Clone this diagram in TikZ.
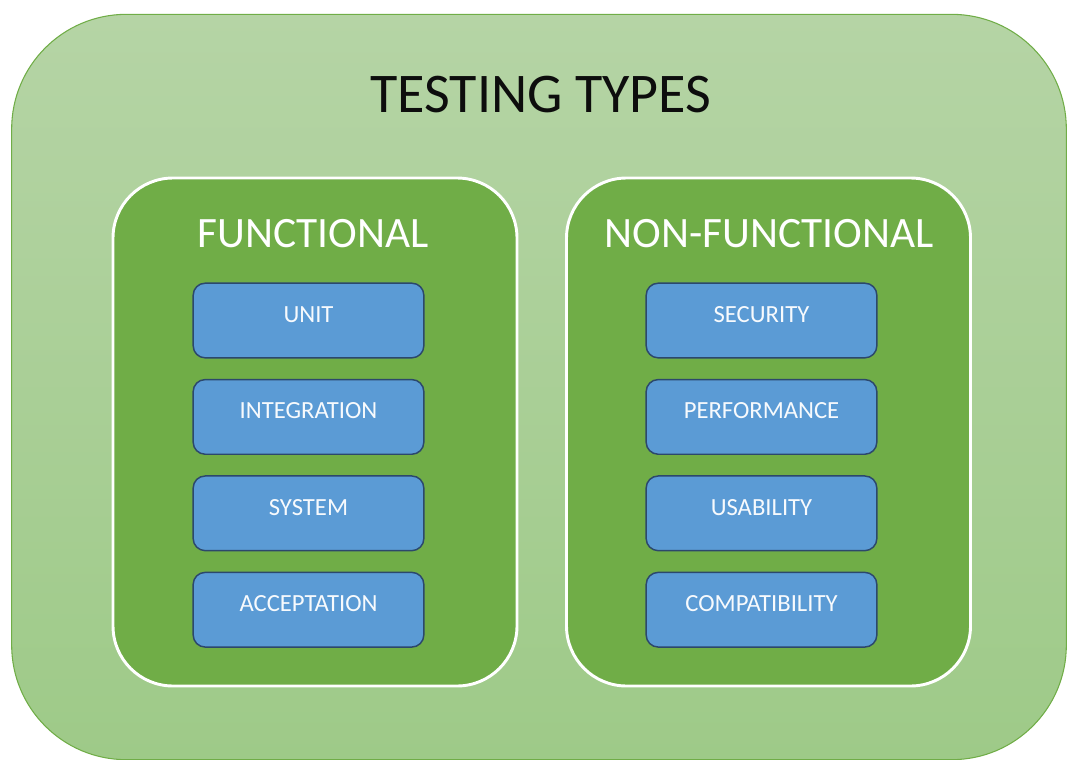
\documentclass[tikz,border=0pt]{standalone}
\usepackage{fontspec}
\setmainfont{Carlito}
\usepackage{tikz}
\usetikzlibrary{positioning, shapes}
\definecolor{outertop}{RGB}{181,212,165}
\definecolor{outerbot}{RGB}{158,202,136}
\definecolor{officegreen}{RGB}{112,173,71}
\definecolor{officeblue}{RGB}{91,155,213}
\definecolor{bluerim}{RGB}{44,72,108}

\begin{document}
\begin{tikzpicture}[x=0.75pt, y=-0.75pt,
        panel/.style={draw=white, line width=2.2pt, fill=officegreen, rounded corners=45pt,
                minimum width=303pt, minimum height=381pt},
        head/.style={text=white, font=\fontsize{32.5}{36}\selectfont, inner sep=0pt},
        kind/.style={draw=bluerim, line width=1.1pt, fill=officeblue, rounded corners=9pt,
                minimum width=173pt, minimum height=56pt, text=white!95!officeblue,
                font=\fontsize{18.5}{20}\selectfont, text depth=9pt, inner sep=0pt},
        node distance=15.2pt]
        \useasboundingbox (0,0) rectangle (1067,760);
        % big background box
        \node (types) [draw=officegreen, line width=0.8pt, top color=outertop, bottom color=outerbot,
                rounded corners=86pt, minimum width=791pt, minimum height=559pt] at (539,387) {};
        \node (title) [font=\fontsize{42}{46}\selectfont, text=black!95, inner sep=0pt] at (541,95) {TESTING TYPES};

        % functional column
        \node (func) [panel] at (315,432) {};
        \node (funchead) [head] at (313,234) {FUNCTIONAL};
        \node (unit) [kind] at (308.5,320.5) {UNIT};
        \node (integ) [kind, below=of unit] {INTEGRATION};
        \node (system) [kind, below=of integ] {SYSTEM};
        \node (accept) [kind, below=of system] {ACCEPTATION};

        % non-functional column
        \node (nonfunc) [panel] at (768.5,432) {};
        \node (nonfunchead) [head] at (769,234) {NON-FUNCTIONAL};
        \node (secur) [kind] at (761.5,320.5) {SECURITY};
        \node (perf) [kind, below=of secur] {PERFORMANCE};
        \node (usab) [kind, below=of perf] {USABILITY};
        \node (compat) [kind, below=of usab] {COMPATIBILITY};
\end{tikzpicture}
\end{document}
